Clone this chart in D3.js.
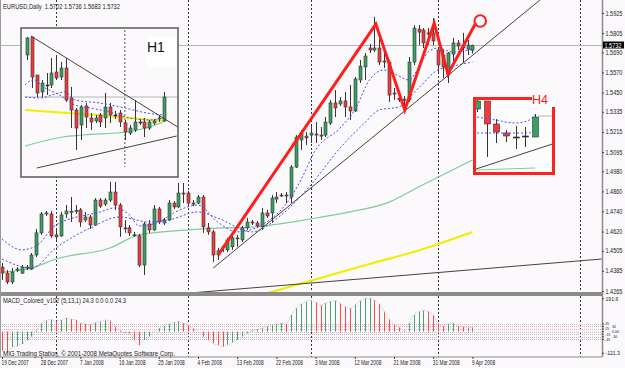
<!DOCTYPE html>
<html><head><meta charset="utf-8">
<script src="https://cdn.jsdelivr.net/npm/d3@7"></script>
<style>
html,body{margin:0;padding:0;background:#fbf9fb;}
svg{display:block}
text{font-family:"Liberation Sans",Arial,sans-serif;}
</style></head><body>
<svg id="chart" width="625" height="368"></svg>
<script>
// ---------------- DATA ----------------
const dateLabels = ["19 Dec 2007","28 Dec 2007","7 Jan 2008","16 Jan 2008","25 Jan 2008","4 Feb 2008","13 Feb 2008","22 Feb 2008","3 Mar 2008","12 Mar 2008","21 Mar 2008","31 Mar 2008","9 Apr 2008"];
const labelBars = [0,8,16,24,32,40,48,56,64,72,80,88,96];
const monthStartBars = [11,38,63,89,118];
const priceTicks = [1.5925,1.5805,1.5690,1.5570,1.5450,1.5335,1.5215,1.5095,1.4980,1.4860,1.4740,1.4620,1.4505,1.4385,1.4265];
const lastPrice = 1.5732;

const open = [1.4408,1.4372,1.4319,1.4390,1.4372,1.4402,1.4396,1.4480,1.4612,1.4725,
1.4725,1.4600,1.4594,1.4725,1.4737,1.4743,1.4749,1.4689,1.4707,1.4659,
1.4808,1.4784,1.4808,1.4856,1.4778,1.4642,1.4642,1.4600,1.4594,1.4420,
1.4665,1.4630,1.4755,1.4671,1.4689,1.4790,1.4767,1.4850,1.4850,1.4790,
1.4790,1.4826,1.4642,1.4618,1.4480,1.4523,1.4511,1.4529,1.4582,1.4570,
1.4642,1.4677,1.4671,1.4648,1.4731,1.4731,1.4814,1.4838,1.4838,1.4826,
1.5005,1.5167,1.5190,1.5196,1.5202,1.5196,1.5196,1.5268,1.5388,1.5382,
1.5400,1.5364,1.5340,1.5525,1.5603,1.5716,1.5704,1.5716,1.5638,1.5632,
1.5447,1.5417,1.5411,1.5406,1.5632,1.5829,1.5823,1.5806,1.5806,1.5704,
1.5674,1.5555,1.5680,1.5746,1.5716,1.5710,1.5702];
const high = [1.4432,1.4390,1.4402,1.4408,1.4420,1.4420,1.4492,1.4636,1.4737,1.4743,
1.4743,1.4636,1.4737,1.4778,1.4826,1.4778,1.4761,1.4737,1.4719,1.4820,
1.4820,1.4820,1.4916,1.4916,1.4790,1.4689,1.4659,1.4618,1.4606,1.4677,
1.4689,1.4778,1.4767,1.4701,1.4808,1.4802,1.4910,1.4910,1.4862,1.4808,
1.4838,1.4838,1.4671,1.4630,1.4523,1.4540,1.4582,1.4600,1.4600,1.4654,
1.4701,1.4689,1.4683,1.4761,1.4749,1.4838,1.4856,1.4850,1.4856,1.5017,
1.5196,1.5226,1.5214,1.5256,1.5274,1.5244,1.5304,1.5406,1.5465,1.5423,
1.5453,1.5495,1.5543,1.5644,1.5686,1.5740,1.5901,1.5782,1.5692,1.5644,
1.5477,1.5435,1.5429,1.5662,1.5853,1.5853,1.5835,1.5835,1.5895,1.5722,
1.5704,1.5692,1.5776,1.5764,1.5806,1.5764,1.5736];
const low = [1.4331,1.4307,1.4307,1.4378,1.4366,1.4390,1.4390,1.4468,1.4600,1.4713,
1.4582,1.4570,1.4588,1.4701,1.4677,1.4725,1.4648,1.4677,1.4636,1.4654,
1.4761,1.4772,1.4796,1.4749,1.4588,1.4612,1.4594,1.4588,1.4408,1.4361,
1.4612,1.4624,1.4665,1.4659,1.4683,1.4755,1.4761,1.4790,1.4778,1.4772,
1.4784,1.4612,1.4600,1.4438,1.4450,1.4498,1.4498,1.4511,1.4529,1.4558,
1.4630,1.4659,1.4642,1.4630,1.4701,1.4671,1.4790,1.4826,1.4790,1.4790,
1.4999,1.5107,1.5137,1.5149,1.5149,1.5167,1.5184,1.5256,1.5304,1.5370,
1.5304,1.5286,1.5334,1.5507,1.5525,1.5686,1.5692,1.5614,1.5597,1.5394,
1.5406,1.5394,1.5358,1.5394,1.5614,1.5734,1.5716,1.5734,1.5734,1.5573,
1.5537,1.5507,1.5626,1.5704,1.5626,1.5674,1.5683];
const close = [1.4372,1.4319,1.4378,1.4396,1.4408,1.4408,1.4480,1.4612,1.4725,1.4731,
1.4594,1.4588,1.4719,1.4743,1.4741,1.4745,1.4677,1.4707,1.4659,1.4808,
1.4772,1.4808,1.4856,1.4778,1.4648,1.4640,1.4612,1.4601,1.4420,1.4665,
1.4630,1.4755,1.4677,1.4689,1.4790,1.4767,1.4850,1.4844,1.4790,1.4789,
1.4826,1.4648,1.4618,1.4480,1.4505,1.4529,1.4570,1.4582,1.4580,1.4642,
1.4677,1.4671,1.4654,1.4731,1.4713,1.4820,1.4826,1.4837,1.4832,1.5005,
1.5184,1.5208,1.5179,1.5208,1.5201,1.5195,1.5274,1.5388,1.5358,1.5400,
1.5364,1.5340,1.5531,1.5608,1.5668,1.5704,1.5716,1.5632,1.5636,1.5435,
1.5445,1.5406,1.5404,1.5632,1.5835,1.5811,1.5746,1.5804,1.5758,1.5614,
1.5603,1.5686,1.5746,1.5728,1.5734,1.5734,1.5732];

// moving averages: [bar, price]
const maFast = [[0,1.4576],[4,1.4511],[7,1.4534],[11,1.4659],[20,1.4737],[23,1.4761],[26,1.4719],[28,1.4654],[32,1.4677],[35,1.4731],[40,1.4778],[44,1.4677],[48,1.4618],[54,1.4677],[59,1.4826],[61,1.4928],[64,1.5107],[69,1.5238],[72,1.5346],[75,1.5525],[78,1.5585],[81,1.5549],[83,1.5525],[85,1.5597],[87,1.5692],[89,1.5716],[92,1.5692],[96,1.5710]];
const maSlow = [[0,1.4456],[6,1.4402],[11,1.4522],[18,1.4641],[24,1.4707],[30,1.4677],[34,1.4689],[40,1.4737],[44,1.4701],[51,1.4618],[57,1.4719],[63,1.4898],[69,1.5119],[74,1.5268],[77,1.5346],[81,1.5364],[85,1.5477],[89,1.5585],[93,1.5614],[96,1.5632]];
const maGreen = [[0,1.4378],[6,1.4402],[11,1.4456],[22,1.4522],[28,1.4600],[38,1.4630],[44,1.4641],[51,1.4647],[63,1.4695],[71,1.4737],[79,1.4796],[85,1.4886],[96,1.5047]];
const maYellow = [[54,1.4251],[65,1.4343],[75,1.4426],[85,1.4507],[96,1.4617]];

// drawn objects: [bar, price]
const trendLower = [[38.4,1.4253],[122.4,1.4456]];
const trendRising = [[43.1,1.4402],[109.8,1.6003]];
const zigzag = [[44.1,1.4480],[76.3,1.5859],[82.2,1.5346],[88.2,1.5865],[91,1.5561],[96.7,1.5865]];
const targetCircle = [97.6,1.5877];

// MACD histogram (5,13,1)
const macd = [-110,-121.3,-90,-83,-71,-52,-29,6,48,63,
71,58,67,77,71,67,48,44,40,52,
58,67,63,29,6,-6,-10,-48,-77,-48,
-29,0,19,33,44,52,58,48,38,19,
0,-29,-48,-67,-77,-86,-77,-63,-48,-29,
-10,6,13,19,29,38,44,48,44,96,
134,159,173,182,167,152,163,173,178,163,
144,134,153,177,190,191.6,180,160,115,71,
44,24,6,48,96,115,121,115,96,48,
32,44,48,32,28,23,24.3];
const macdLevels = [45,30,15,0,-15,-30,-45];
const macdExtremes = [191.6,-121.3];

// H1 inset (relative levels)
const h1Open = [122,140,102,85,92,92,105,100,109,79,67,52,71,59,56,62,59,70,62,64,54,44,47,55,55,49,54,58,56];
const h1High = [140,140,102,97,104,119,122,115,119,90,69,72,74,64,62,64,84,74,66,67,57,52,77,58,59,57,58,62,85];
const h1Low = [117,89,80,80,82,89,97,97,75,49,27,37,49,47,54,50,49,54,58,50,37,42,45,52,40,47,52,55,55];
const h1Close = [139,100,84,94,92,104,99,109,77,67,49,70,60,55,59,55,70,62,62,55,45,49,55,55,49,55,56,59,80];
const h1TrendDown = [[0.8,141],[30.8,50]];
const h1TrendUp = [[2,9],[30.6,41]];
const h1Yellow = [[-0.4,67],[14,62],[28,56]];
const h1Green = [[-0.4,31],[7.3,40],[11.4,42],[20.4,45],[25.1,50],[27.8,55]];
const h1BlueA = [[-0.4,92],[1.2,97],[3.7,89],[6.7,82],[9.8,72],[12.9,69],[16.9,65],[21,59],[25.1,57],[27.8,59]];
const h1BlueB = [[-0.4,80],[2.7,79],[5.7,83],[7.8,85],[9.8,77],[14.9,74],[20,69],[24.5,64],[27.8,62]];
const h1Bid = 80, h1Sep = 20;

// H4 inset (relative levels)
const h4Open = [66,74,51,42,38,39,38];
const h4High = [76,74,56,45,49,48,61];
const h4Low = [63,18,32,33,26,28,38];
const h4Close = [74,51,43,39,38,39,58];
const h4BlueA = [[0,58],[1.9,55],[3.9,52],[5.2,54],[6,60]];
const h4BlueB = [[0,42],[5.5,42],[6,45]];
const h4Trend = [[-0.1,6],[7.8,31]];
const h4Green = [[-0.1,5],[3,6],[6,7]];
const h4Bid = 59;

// ---------------- DRAW ----------------
const GREEN = "#37a062", RED = "#f23a3a", WICK = "#353535", BG = "#fbf9fb";
const svg = d3.select("#chart");
svg.append("rect").attr("width",625).attr("height",368).attr("fill",BG);

const plotR = 602;
const x = d3.scaleLinear().domain([0,122]).range([2, 2+122*4.9]);
const y = d3.scaleLinear().domain([1.4265,1.5925]).range([291,13]);
const ym = d3.scaleLinear().domain([-121.3,191.6]).range([352.7,298.3]);

const defs = svg.append("defs");
defs.append("clipPath").attr("id","clipMain").append("rect").attr("x",0).attr("y",0).attr("width",plotR).attr("height",292);
defs.append("clipPath").attr("id","clipMacd").append("rect").attr("x",0).attr("y",296).attr("width",plotR).attr("height",61);

// month separators
svg.append("g").selectAll("line").data(monthStartBars).join("line")
  .attr("x1",d=>Math.round(x(d))+0.5).attr("x2",d=>Math.round(x(d))+0.5)
  .attr("y1",0).attr("y2",357).attr("stroke","#333").attr("stroke-width",1).attr("stroke-dasharray","2,2");

const main = svg.append("g").attr("clip-path","url(#clipMain)");
main.append("line").attr("x1",0).attr("x2",plotR).attr("y1",Math.round(y(lastPrice))+0.5).attr("y2",Math.round(y(lastPrice))+0.5)
  .attr("stroke","#b4b4b4").attr("stroke-width",1);

function drawCandles(g, sx, sy, O, Hh, L, C, bw){
  const idx = d3.range(O.length);
  g.selectAll("line.wick").data(idx).join("line").attr("class","wick")
    .attr("x1",i=>Math.round(sx(i))+0.5).attr("x2",i=>Math.round(sx(i))+0.5)
    .attr("y1",i=>sy(Hh[i])).attr("y2",i=>sy(L[i])).attr("stroke",WICK).attr("stroke-width",1);
  g.selectAll("rect.body").data(idx).join("rect").attr("class","body")
    .attr("x",i=>Math.round(sx(i))+0.5-bw/2).attr("width",bw)
    .attr("y",i=>Math.min(sy(O[i]),sy(C[i])))
    .attr("height",i=>Math.max(1,Math.abs(sy(O[i])-sy(C[i]))))
    .attr("fill",i=> C[i]>O[i]?GREEN:(C[i]<O[i]?RED:"#222"))
    .attr("stroke",WICK).attr("stroke-width",0.6);
}
function path(g, pts, sx, sy, stroke, w, dash, curve){
  g.append("path").datum(pts)
    .attr("d", d3.line().x(d=>sx(d[0])).y(d=>sy(d[1])).curve(curve||d3.curveLinear))
    .attr("fill","none").attr("stroke",stroke).attr("stroke-width",w)
    .attr("stroke-dasharray",dash||null);
}

path(main, maGreen, x, y, "#7fcc9c", 1.2, null, d3.curveMonotoneX);
path(main, maYellow, x, y, "#f2ee00", 2.2, null, d3.curveMonotoneX);
drawCandles(main.append("g"), x, y, open, high, low, close, 3);
path(main, maFast, x, y, "#4a4ae8", 1, "2,2", d3.curveMonotoneX);
path(main, maSlow, x, y, "#4a4ae8", 1, "2,2", d3.curveMonotoneX);
path(main, trendLower, x, y, "#4a4040", 1);
path(main, trendRising, x, y, "#4a4040", 1);
main.append("path").datum(zigzag).attr("d", d3.line().x(d=>x(d[0])).y(d=>y(d[1])))
  .attr("fill","none").attr("stroke","#ff1e1e").attr("stroke-width",3).attr("stroke-linejoin","miter");
main.append("circle").attr("cx",x(targetCircle[0])).attr("cy",y(targetCircle[1])).attr("r",5.8)
  .attr("fill","none").attr("stroke","#ff1e1e").attr("stroke-width",2);

// ---- H1 inset ----
const h1x = d3.scaleLinear().domain([0,28]).range([27,164]);
const h1y = d3.scaleLinear().domain([0,148]).range([177,29]);
defs.append("clipPath").attr("id","clipH1").append("rect").attr("x",21).attr("y",28).attr("width",157).attr("height",149);
const h1 = svg.append("g");
h1.append("rect").attr("x",21).attr("y",28).attr("width",157).attr("height",149).attr("fill",BG);
const h1c = h1.append("g").attr("clip-path","url(#clipH1)");
h1c.append("line").attr("x1",25).attr("x2",177).attr("y1",h1y(h1Bid)).attr("y2",h1y(h1Bid)).attr("stroke","#b4b4b4");
h1c.append("line").attr("x1",h1x(h1Sep)).attr("x2",h1x(h1Sep)).attr("y1",30).attr("y2",167).attr("stroke","#555").attr("stroke-dasharray","2,2");
path(h1c, h1Green, h1x, h1y, "#7fcc9c", 1.2, null, d3.curveMonotoneX);
path(h1c, h1Yellow, h1x, h1y, "#f2ee00", 2, null, d3.curveMonotoneX);
drawCandles(h1c.append("g"), h1x, h1y, h1Open, h1High, h1Low, h1Close, 3);
path(h1c, h1BlueA, h1x, h1y, "#5050e8", 1, "2,2", d3.curveMonotoneX);
path(h1c, h1BlueB, h1x, h1y, "#5050e8", 1, "2,2", d3.curveMonotoneX);
path(h1c, h1TrendDown, h1x, h1y, "#4a4040", 1);
path(h1c, h1TrendUp, h1x, h1y, "#4a4040", 1);
h1c.append("rect").attr("x",146).attr("y",37).attr("width",30).attr("height",30).attr("fill","#ffffff");
h1c.append("text").attr("x",147).attr("y",52).attr("font-size",14).attr("fill","#111").text("H1");
h1.append("rect").attr("x",21).attr("y",28).attr("width",157).attr("height",149).attr("fill","none").attr("stroke","#5a5a5a").attr("stroke-width",1.5);

// ---- H4 inset ----
const h4x = d3.scaleLinear().domain([0,6]).range([477,535]);
const h4y = d3.scaleLinear().domain([0,78]).range([175,97]);
defs.append("clipPath").attr("id","clipH4").append("rect").attr("x",473).attr("y",97).attr("width",81).attr("height",78);
const h4 = svg.append("g");
h4.append("rect").attr("x",473).attr("y",97).attr("width",81).attr("height",78).attr("fill","#fdfcfd");
const h4c = h4.append("g").attr("clip-path","url(#clipH4)");
h4c.append("line").attr("x1",h4x(6.3)).attr("x2",554).attr("y1",h4y(h4Bid)).attr("y2",h4y(h4Bid)).attr("stroke","#b4b4b4");
path(h4c, h4Green, h4x, h4y, "#7fcc9c", 1);
drawCandles(h4c.append("g"), h4x, h4y, h4Open, h4High, h4Low, h4Close, 6);
path(h4c, h4BlueA, h4x, h4y, "#5050e8", 1, "2,2", d3.curveMonotoneX);
path(h4c, h4BlueB, h4x, h4y, "#5050e8", 1, "2,2");
path(h4c, h4Trend, h4x, h4y, "#4a4040", 1);
h4.append("path").attr("d","M532,98.5 L474.5,98.5 L474.5,173.5 L553.5,173.5 L553.5,107")
  .attr("fill","none").attr("stroke","#ff2020").attr("stroke-width",3);
h4.append("text").attr("x",532).attr("y",104).attr("font-size",12.5).attr("fill","#ff1a1a").text("H4");

// ---- separator band ----
svg.append("rect").attr("x",0).attr("y",292).attr("width",plotR).attr("height",4).attr("fill","#8c8c8c");

// ---- MACD panel ----
const mg = svg.append("g").attr("clip-path","url(#clipMacd)");
mg.selectAll("line.lvl").data(macdLevels).join("line").attr("class","lvl")
  .attr("x1",0).attr("x2",plotR).attr("y1",d=>Math.round(ym(d))+0.5).attr("y2",d=>Math.round(ym(d))+0.5)
  .attr("stroke",d=>d>=0?"#d8b4bc":"#b8b8b8").attr("stroke-width",1).attr("stroke-dasharray","1,1");
mg.selectAll("line.bar").data(d3.range(macd.length)).join("line").attr("class","bar")
  .attr("x1",i=>Math.round(x(i))+0.5).attr("x2",i=>Math.round(x(i))+0.5)
  .attr("y1",ym(0)).attr("y2",i=>ym(macd[i]))
  .attr("stroke",i=> (i>0 && macd[i]>=macd[i-1]) ? "#4aa070" : "#ff4848").attr("stroke-width",1);
mg.append("path").datum(macd).attr("d", d3.line().x((d,i)=>x(i)).y(d=>ym(d)).curve(d3.curveMonotoneX))
  .attr("fill","none").attr("stroke","#bdbdbd").attr("stroke-width",1).attr("stroke-dasharray","1,1.5");

function fit(sel, w){ sel.attr("textLength", w).attr("lengthAdjust","spacingAndGlyphs"); }
function squeeze(sel, f){ sel.each(function(){ const w=this.getComputedTextLength(); d3.select(this).attr("textLength",w*f).attr("lengthAdjust","spacingAndGlyphs"); }); }

svg.append("text").attr("x",3).attr("y",302.5).attr("font-size",7).attr("fill","#222")
  .text("MACD_Colored_v102 (5,13,1) 24.3 0.0 0.0 24.3").call(fit,123);
svg.append("text").attr("x",3).attr("y",355.5).attr("font-size",7).attr("fill","#222")
  .text("MIG Trading Station, \u00a9 2001-2008 MetaQuotes Software Corp.").call(fit,172);

// frame lines
svg.append("line").attr("x1",0.5).attr("x2",0.5).attr("y1",0).attr("y2",357).attr("stroke","#9a9a9a");
svg.append("line").attr("x1",0).attr("x2",plotR).attr("y1",357).attr("y2",357).attr("stroke","#8c8c8c");
svg.append("line").attr("x1",plotR+0.5).attr("x2",plotR+0.5).attr("y1",0).attr("y2",357).attr("stroke","#8c8c8c").attr("stroke-width",1.5);

// title
svg.append("text").attr("x",3).attr("y",9).attr("font-size",7).attr("fill","#222")
  .text("EURUSD,Daily \u00a01.5702 1.5736 1.5683 1.5732").call(fit,117);

// right price axis
const gA = svg.append("g").attr("transform",`translate(${plotR},0)`)
  .call(d3.axisRight(y).tickValues(priceTicks).tickFormat(d3.format(".4f")).tickSize(2).tickPadding(1.5));
gA.select(".domain").remove();
gA.selectAll("line").attr("stroke","#444");
gA.selectAll("text").attr("font-size",6.5).attr("fill","#222").style("font-family","Liberation Sans, Arial, sans-serif").call(squeeze,0.85);
svg.append("rect").attr("x",603).attr("y",41.5).attr("width",21).attr("height",7).attr("fill","#000");
svg.append("text").attr("x",604.5).attr("y",47.6).attr("font-size",6.5).attr("fill","#fff").text(d3.format(".4f")(lastPrice)).call(squeeze,0.85);

// MACD axis: extremes
const gM = svg.append("g").attr("transform",`translate(${plotR},0)`)
  .call(d3.axisRight(ym).tickValues(macdExtremes).tickFormat(d=>d.toFixed(1)).tickSize(2).tickPadding(1.5));
gM.select(".domain").remove();
gM.selectAll("line").attr("stroke","#444");
gM.selectAll("text").attr("font-size",6).attr("fill","#222").style("font-family","Liberation Sans, Arial, sans-serif").call(squeeze,0.85);
// MACD level labels: crowded, staggered in two columns
const gL = svg.append("g");
gL.selectAll("line").data(macdLevels).join("line")
  .attr("x1",plotR).attr("x2",plotR+2).attr("y1",d=>ym(d)).attr("y2",d=>ym(d)).attr("stroke","#444");
gL.selectAll("text").data(macdLevels).join("text")
  .attr("x",(d,i)=> i%2===0 ? 605 : 612).attr("y",d=>ym(d)).attr("dy","0.34em")
  .attr("font-size",4.2).attr("fill","#222")
  .text(d=> d===0 ? "0.00" : String(d)).call(squeeze,0.85);

// date axis
const gX = svg.append("g").attr("transform","translate(0,357)")
  .call(d3.axisBottom(x).tickValues(labelBars).tickFormat((d,i)=>dateLabels[i]).tickSize(2).tickPadding(1));
gX.select(".domain").remove();
gX.selectAll("line").attr("stroke","#444");
gX.selectAll("text").attr("font-size",6.5).attr("fill","#222").attr("text-anchor","start").attr("dx",-1)
  .style("font-family","Liberation Sans, Arial, sans-serif").call(squeeze,0.74);
</script></body></html>
